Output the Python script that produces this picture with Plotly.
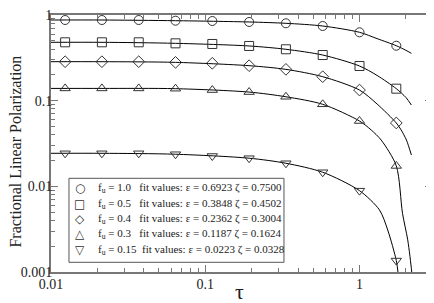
import plotly.graph_objects as go

# Marker positions (tau) and values
tau = [0.01235, 0.02138, 0.03704, 0.06415, 0.1111, 0.1925, 0.3333, 0.5774, 1.0, 1.732]

p_10 = [0.874, 0.874, 0.874, 0.858, 0.851, 0.829, 0.800, 0.744, 0.628, 0.438]
p_05 = [0.480, 0.480, 0.480, 0.467, 0.459, 0.435, 0.398, 0.341, 0.254, 0.138]
p_04 = [0.285, 0.285, 0.285, 0.280, 0.273, 0.256, 0.232, 0.1905, 0.133, 0.0549]
p_03 = [0.139, 0.139, 0.139, 0.138, 0.133, 0.126, 0.111, 0.0907, 0.0579, 0.0173]
p_015 = [0.0243, 0.0243, 0.0243, 0.0237, 0.0226, 0.0213, 0.0186, 0.0146, 0.0089, 0.00136]

# Fit curves
c10_t = [0.01, 0.0214, 0.0642, 0.1925, 0.3333, 0.5774, 1.0, 1.3, 1.732, 2.0, 2.17]
c10_v = [0.874, 0.874, 0.858, 0.829, 0.800, 0.744, 0.628, 0.530, 0.438, 0.387, 0.357]
c05_t = [0.01, 0.0214, 0.0642, 0.1925, 0.3333, 0.5774, 1.0, 1.3, 1.732, 2.0, 2.17]
c05_v = [0.480, 0.480, 0.467, 0.435, 0.398, 0.341, 0.254, 0.197, 0.138, 0.109, 0.089]
c04_t = [0.01, 0.0214, 0.0642, 0.1925, 0.3333, 0.5774, 1.0, 1.3, 1.732, 1.862, 2.015, 2.17]
c04_v = [0.285, 0.285, 0.280, 0.256, 0.232, 0.1905, 0.133, 0.0914, 0.0549, 0.0455, 0.0347, 0.0232]
c03_t = [0.01, 0.0214, 0.0642, 0.1925, 0.3333, 0.5774, 1.0, 1.19, 1.382, 1.732, 1.90, 2.054, 2.18, 2.22]
c03_v = [0.139, 0.139, 0.138, 0.126, 0.111, 0.0907, 0.0579, 0.0455, 0.0347, 0.0173, 0.00484, 0.00237, 0.001, 0.0006]
c015_t = [0.01, 0.0214, 0.0642, 0.1925, 0.3333, 0.5774, 1.0, 1.347, 1.524, 1.732, 1.775, 1.79]
c015_v = [0.0243, 0.0243, 0.0237, 0.0213, 0.0186, 0.0146, 0.0089, 0.0053, 0.00309, 0.00136, 0.001, 0.0006]

names = [
    "f<sub>u</sub> = 1.0\u00a0\u00a0\u00a0fit values: ε = 0.6923 ζ = 0.7500",
    "f<sub>u</sub> = 0.5\u00a0\u00a0\u00a0fit values: ε = 0.3848 ζ = 0.4502",
    "f<sub>u</sub> = 0.4\u00a0\u00a0\u00a0fit values: ε = 0.2362 ζ = 0.3004",
    "f<sub>u</sub> = 0.3\u00a0\u00a0\u00a0fit values: ε = 0.1187 ζ = 0.1624",
    "f<sub>u</sub> = 0.15\u00a0\u00a0fit values: ε = 0.0223 ζ = 0.0328",
]
symbols = ["circle-open", "square-open", "diamond-open", "triangle-up-open", "triangle-down-open"]
legend_glyphs = ["○", "□", "◇", "△", "▽"]
points = [p_10, p_05, p_04, p_03, p_015]
curves = [(c10_t, c10_v), (c05_t, c05_v), (c04_t, c04_v), (c03_t, c03_v), (c015_t, c015_v)]

y_tickvals = [0.001, 0.01, 0.1, 1]
y_ticktext = ["0.001", "0.01", "0.1", "1"]
x_tickvals = [0.01, 0.1, 1]
x_ticktext = ["0.01", "0.1", "1"]

SERIF = "Liberation Serif, Times New Roman, serif"
INK = "#222222"

fig = go.Figure()
for (ct, cv) in curves:
    fig.add_trace(go.Scatter(x=ct, y=cv, mode="lines", showlegend=False,
                             line=dict(color="black", width=1, shape="spline", smoothing=0.8)))
for name, sym, pv in zip(names, symbols, points):
    fig.add_trace(go.Scatter(x=tau, y=pv, mode="markers", name=name, showlegend=False,
                             marker=dict(symbol=sym, size=9, color="#333333",
                                         line=dict(width=1, color="#333333"))))

minor_vals = [m * 10 ** e for e in (-3, -2, -1) for m in range(2, 10)]
xminor = [m * 10 ** e for e in (-2, -1, 0) for m in range(2, 10)]

axis_common = dict(showline=True, linecolor="#777777", linewidth=2, mirror="ticks",
                   ticks="inside", ticklen=7, tickcolor="#777777", tickwidth=1,
                   showgrid=False, zeroline=False, automargin=False,
                   ticklabeloverflow="allow",
                   tickfont=dict(family=SERIF, size=14, color=INK))

fig.update_xaxes(type="log", range=[-2, 0.47], tickvals=x_tickvals, ticktext=x_ticktext,
                 minor=dict(tickvals=xminor, ticks="inside", ticklen=4, tickcolor="#777777", showgrid=False),
                 ticklabelstandoff=-2,
                 **axis_common)
fig.update_yaxes(type="log", range=[-3, 0], tickvals=y_tickvals, ticktext=y_ticktext,
                 minor=dict(tickvals=minor_vals, ticks="inside", ticklen=4, tickcolor="#777777", showgrid=False),
                 ticklabelstandoff=-6,
                 **axis_common)

# axis titles
fig.add_annotation(text="τ", xref="paper", yref="paper", x=0.496, y=-0.074,
                   xanchor="center", yanchor="middle", showarrow=False,
                   font=dict(family=SERIF, size=22, color=INK))
fig.add_annotation(text="Fractional Linear Polarization", xref="paper", yref="paper",
                   x=-0.0935, y=0.47, textangle=-90, xanchor="center", yanchor="middle",
                   showarrow=False, font=dict(family=SERIF, size=16, color=INK))

# legend box
fig.add_shape(type="rect", xref="paper", yref="paper", x0=0.0472, x1=0.6115, y0=0.0377, y1=0.3646,
              line=dict(color="#555555", width=1), fillcolor="white", layer="above")
row_y = [0.3257, 0.2665, 0.2074, 0.1467, 0.0856]
for glyph, name, ry in zip(legend_glyphs, names, row_y):
    fig.add_annotation(text=glyph, xref="paper", yref="paper", x=0.0761, y=ry,
                       xanchor="center", yanchor="middle", showarrow=False,
                       font=dict(family="DejaVu Sans", size=12, color="#333333"))
    fig.add_annotation(text=name, xref="paper", yref="paper", x=0.1181, y=ry,
                       xanchor="left", yanchor="middle", showarrow=False,
                       font=dict(family=SERIF, size=11, color=INK))

# page body has an 8px margin, so the figure is offset by 8px
fig.update_layout(
    width=426, height=295,
    margin=dict(l=43, r=2, t=7, b=31),
    plot_bgcolor="white", paper_bgcolor="white",
    font=dict(family=SERIF, color=INK),
    showlegend=False,
)

fig.write_html("out.html")
